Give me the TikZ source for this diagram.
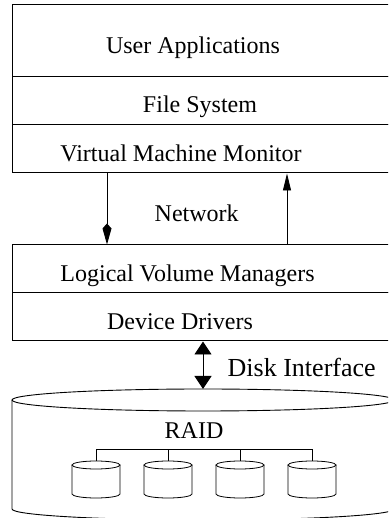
\documentclass[tikz,border=0pt]{standalone}
\usepackage{fontspec}
\setmainfont{Liberation Serif}
\usetikzlibrary{arrows.meta}

\tikzset{
  layer/.style={draw, line width=1pt, rectangle, inner sep=0pt,
                minimum width=388pt},
  lbl/.style={anchor=base, inner sep=0pt, font=\fontsize{24}{28}\selectfont},
  link/.style={line width=0.9pt},
  pics/disk/.style={code={
    \draw[line width=0.8pt] (-24,0) -- (-24,-29)
      arc[start angle=180, end angle=360, x radius=24pt, y radius=4pt]
      -- (24,0);
    \draw[line width=0.8pt] (0,0) ellipse [x radius=24pt, y radius=4pt];
    \coordinate (-top) at (0,4);
  }}
}

\begin{document}
\begin{tikzpicture}[x=1pt, y=1pt]
  \useasboundingbox (0,0) rectangle (388,518);
  \clip (0,0) rectangle (388,518);

  % upper stack
  \node[layer, minimum height=72pt] (app) at (206,477) {};
  \node[layer, minimum height=48pt] (fs)  at (206,417) {};
  \node[layer, minimum height=48pt] (vmm) at (206,369) {};
  \node[lbl] (appt) at (193,464.7) {User Applications};
  \node[lbl] (fst)  at (200,405)   {File System};
  \node[lbl] (vmmt) at (181,356.3) {Virtual Machine Monitor};

  % lower stack
  \node[layer, minimum height=48pt] (lvm) at (206,249) {};
  \node[layer, minimum height=48pt] (dd)  at (206,201) {};
  \node[lbl] (lvmt) at (187.5,236.3) {Logical Volume Managers};
  \node[lbl] (ddt)  at (180,188.7)   {Device Drivers};

  % network links
  \coordinate (downx) at (107,0);
  \coordinate (upx)   at (287,0);
  \draw[link, -{Kite[length=21pt, width=9pt, inset=5pt]}]
    (vmm.south -| downx) -- (lvm.north -| downx);
  \draw[link, -{Triangle[length=17pt, width=8pt]}]
    (lvm.north -| upx) -- (vmm.south -| upx);
  \node[lbl] (net) at (196.7,296.3) {Network};

  % RAID enclosure
  \coordinate (raidtop) at (203,129);
  \draw[line width=0.9pt] (12,118) -- (12,9)
    arc[start angle=180, end angle=360, x radius=191pt, y radius=11pt]
    -- (394,118);
  \draw[line width=0.9pt] (203,118) ellipse [x radius=191pt, y radius=11pt];
  \node[lbl] (raid) at (194,79.7) {RAID};

  % disk interface
  \draw[link, {Triangle[length=13pt, width=17pt]}-{Triangle[length=13pt, width=17pt]}]
    (dd.south -| raidtop) -- (raidtop);
  \node[lbl, font=\fontsize{26}{30}\selectfont] (disk) at (301.7,141.3) {Disk Interface};

  % member disks on a shared bus
  \pic (d1) at (96,53)  {disk};
  \pic (d2) at (168,53) {disk};
  \pic (d3) at (240,53) {disk};
  \pic (d4) at (312,53) {disk};
  \coordinate (busl) at (96,69);
  \coordinate (busr) at (312,69);
  \draw[line width=0.8pt] (d1-top) -- (busl) -- (busr) -- (d4-top);
  \draw[line width=0.8pt] (d2-top) -- (d2-top |- busl);
  \draw[line width=0.8pt] (d3-top) -- (d3-top |- busl);
\end{tikzpicture}
\end{document}
